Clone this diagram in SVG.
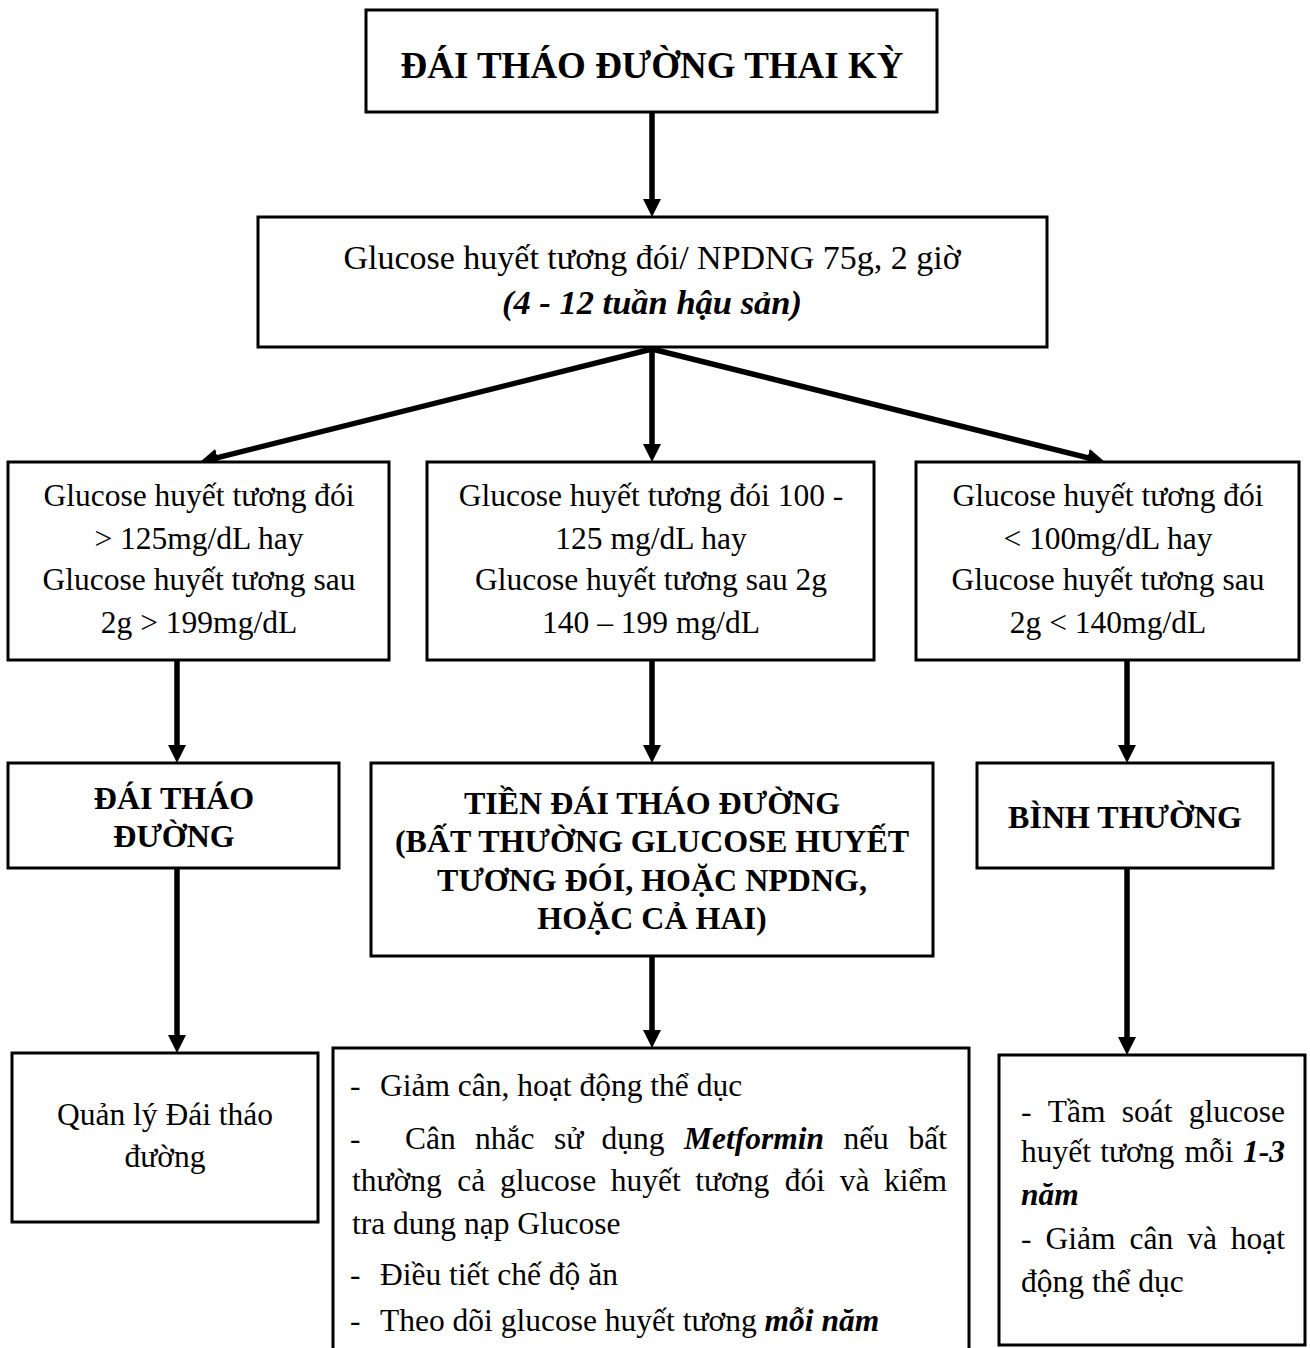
<svg xmlns="http://www.w3.org/2000/svg" width="1310" height="1348" viewBox="0 0 1310 1348">
<style>
.box{fill:#fff;stroke:#000;stroke-width:3}
.conn{stroke:#000;stroke-width:5.5;fill:none;marker-end:url(#ah)}
text{font-family:"Liberation Serif","Times New Roman",serif;fill:#000}
.t{font-size:31.5px}
.c{text-anchor:middle}
.e{text-anchor:end}
.b{font-weight:bold}
.bi{font-weight:bold;font-style:italic}
</style>
<defs>
<marker id="ah" markerUnits="userSpaceOnUse" markerWidth="20" markerHeight="18" refX="8" refY="9" orient="auto">
<path d="M0,0 L18,9 L0,18 z" fill="#000"/>
</marker>
</defs>
<rect width="1310" height="1348" fill="#fff"/>

<g id="connectors">
<line class="conn" x1="652" y1="112" x2="652" y2="207"/>
<line class="conn" x1="652" y1="349" x2="209.7" y2="459.6"/>
<line class="conn" x1="652" y1="349" x2="652" y2="452"/>
<line class="conn" x1="652" y1="349" x2="1095.3" y2="459.6"/>
<line class="conn" x1="177" y1="660" x2="177" y2="753"/>
<line class="conn" x1="652" y1="660" x2="652" y2="753"/>
<line class="conn" x1="1127" y1="660" x2="1127" y2="753"/>
<line class="conn" x1="177" y1="868" x2="177" y2="1043"/>
<line class="conn" x1="652" y1="956" x2="652" y2="1038"/>
<line class="conn" x1="1127" y1="868" x2="1127" y2="1045"/>
</g>

<g id="n-title">
<rect class="box" x="366" y="10" width="571" height="102"/>
<text class="b c" x="652" y="78" style="font-size:37px">ĐÁI THÁO ĐƯỜNG THAI KỲ</text>
</g>

<g id="n-test">
<rect class="box" x="258" y="217" width="789" height="130"/>
<text class="c" x="652" y="269" style="font-size:34px">Glucose huyết tương đói/ NPDNG 75g, 2 giờ</text>
<text class="bi c" x="652" y="314" style="font-size:34.5px">(4 - 12 tuần hậu sản)</text>
</g>

<g id="n-left1">
<rect class="box" x="8" y="462" width="381" height="198"/>
<text class="t c" x="199" y="506">Glucose huyết tương đói</text>
<text class="t c" x="199" y="549">&gt; 125mg/dL hay</text>
<text class="t c" x="199" y="590">Glucose huyết tương sau</text>
<text class="t c" x="199" y="633">2g &gt; 199mg/dL</text>
</g>

<g id="n-mid1">
<rect class="box" x="427" y="462" width="447" height="198"/>
<text class="t c" x="651" y="506">Glucose huyết tương đói 100 -</text>
<text class="t c" x="651" y="549">125 mg/dL hay</text>
<text class="t c" x="651" y="590">Glucose huyết tương sau 2g</text>
<text class="t c" x="651" y="633">140 – 199 mg/dL</text>
</g>

<g id="n-right1">
<rect class="box" x="916" y="462" width="383" height="198"/>
<text class="t c" x="1108" y="506">Glucose huyết tương đói</text>
<text class="t c" x="1108" y="549">&lt; 100mg/dL hay</text>
<text class="t c" x="1108" y="590">Glucose huyết tương sau</text>
<text class="t c" x="1108" y="633">2g &lt; 140mg/dL</text>
</g>

<g id="n-dtd">
<rect class="box" x="8" y="763" width="331" height="105"/>
<text class="b c" x="174" y="809" style="font-size:32px">ĐÁI THÁO</text>
<text class="b c" x="174" y="847" style="font-size:32px">ĐƯỜNG</text>
</g>

<g id="n-tien">
<rect class="box" x="371" y="763" width="562" height="193"/>
<text class="b c" x="652" y="814" style="font-size:32px">TIỀN ĐÁI THÁO ĐƯỜNG</text>
<text class="b c" x="652" y="852" style="font-size:32px">(BẤT THƯỜNG GLUCOSE HUYẾT</text>
<text class="b c" x="652" y="891" style="font-size:32px">TƯƠNG ĐÓI, HOẶC NPDNG,</text>
<text class="b c" x="652" y="929" style="font-size:32px">HOẶC CẢ HAI)</text>
</g>

<g id="n-binh">
<rect class="box" x="977" y="763" width="296" height="105"/>
<text class="b c" x="1125" y="828" style="font-size:32px">BÌNH THƯỜNG</text>
</g>

<g id="n-quanly">
<rect class="box" x="12" y="1053" width="306" height="169"/>
<text class="t c" x="165" y="1125">Quản lý Đái tháo</text>
<text class="t c" x="165" y="1167">đường</text>
</g>

<g id="n-tien-action">
<rect class="box" x="333" y="1048" width="636" height="320"/>
<text class="t" x="350" y="1096">-</text>
<text class="t" x="380" y="1096">Giảm cân, hoạt động thể dục</text>
<text class="t" y="1149"><tspan x="350">-</tspan><tspan x="405">Cân</tspan><tspan x="475">nhắc</tspan><tspan x="554">sử</tspan><tspan x="601.6">dụng</tspan><tspan x="684" class="bi">Metformin</tspan><tspan x="843.4">nếu</tspan></text>
<text class="t e" x="947" y="1149">bất</text>
<text class="t" y="1191"><tspan x="352">thường</tspan><tspan x="457.3">cả</tspan><tspan x="499.9">glucose</tspan><tspan x="610.7">huyết</tspan><tspan x="695.3">tương</tspan><tspan x="784.8">đói</tspan><tspan x="839.7">và</tspan></text>
<text class="t e" x="947" y="1191">kiểm</text>
<text class="t" x="352" y="1234">tra dung nạp Glucose</text>
<text class="t" x="350" y="1285">-</text>
<text class="t" x="380" y="1285">Điều tiết chế độ ăn</text>
<text class="t" x="350" y="1331">-</text>
<text class="t" x="380" y="1331">Theo dõi glucose huyết tương <tspan class="bi">mỗi năm</tspan></text>
</g>

<g id="n-binh-action">
<rect class="box" x="999" y="1055" width="306" height="290"/>
<text class="t" y="1122"><tspan x="1021">-</tspan><tspan x="1047.8">Tầm</tspan><tspan x="1121.8">soát</tspan></text>
<text class="t e" x="1285" y="1122">glucose</text>
<text class="t" y="1162"><tspan x="1021">huyết</tspan><tspan x="1100.3">tương</tspan><tspan x="1184.5">mỗi</tspan></text>
<text class="t e bi" x="1285" y="1162">1-3</text>
<text class="t bi" x="1021" y="1205">năm</text>
<text class="t" y="1249"><tspan x="1021">-</tspan><tspan x="1045.5">Giảm</tspan><tspan x="1129.5">cân</tspan><tspan x="1187.2">và</tspan></text>
<text class="t e" x="1285" y="1249">hoạt</text>
<text class="t" x="1021" y="1292">động thể dục</text>
</g>
</svg>
